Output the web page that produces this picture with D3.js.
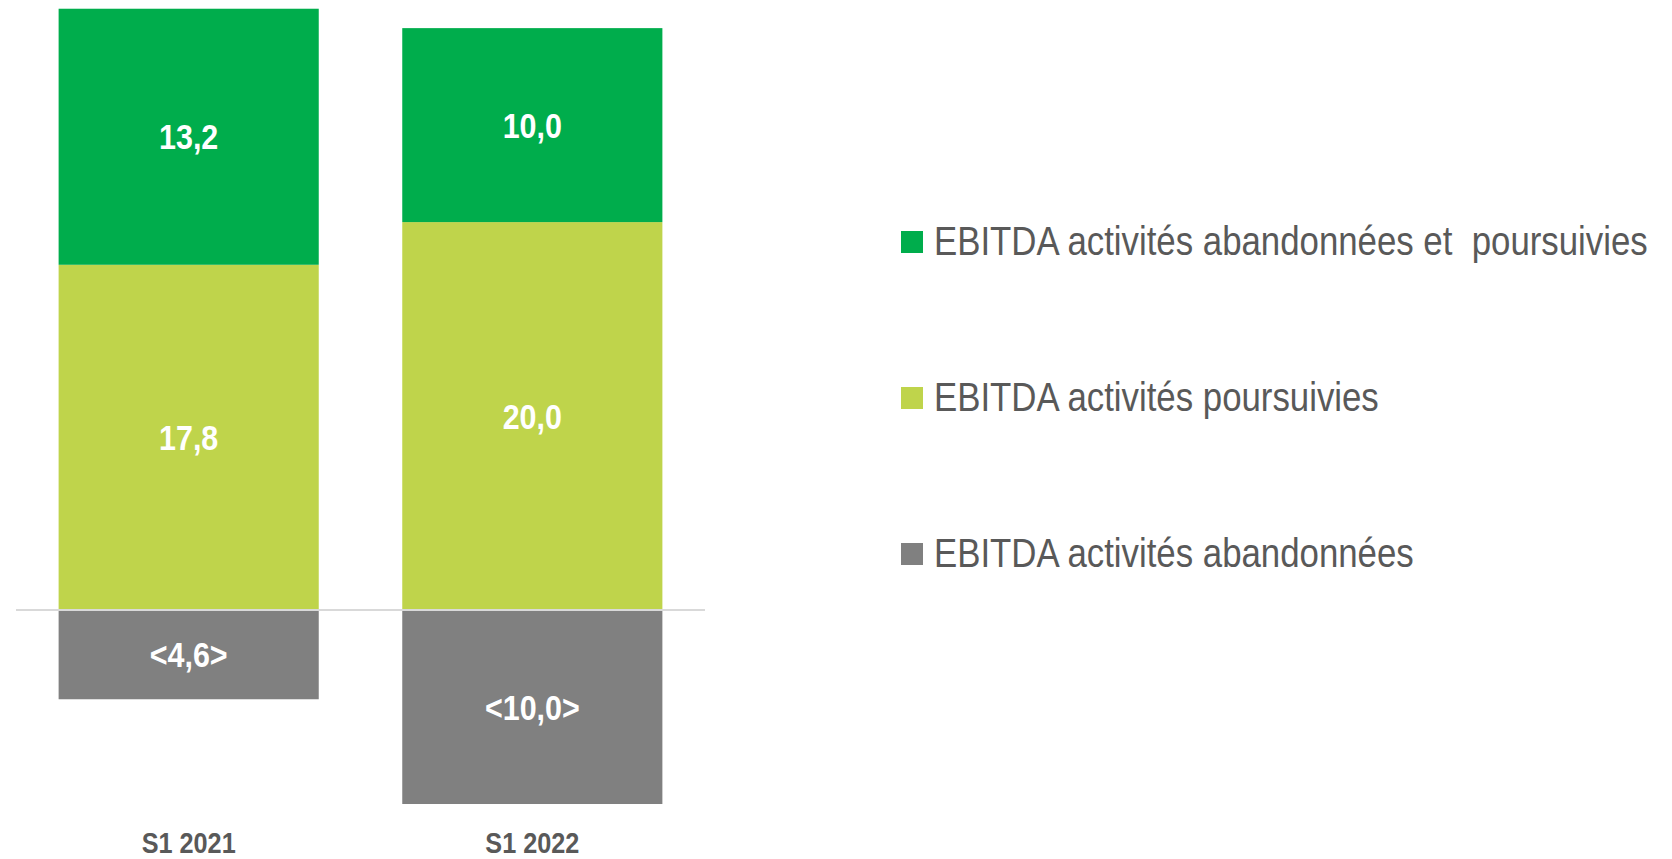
<!doctype html>
<html>
<head>
<meta charset="utf-8">
<style>
  body { margin: 0; background: #fff; }
  svg text { font-family: "Liberation Sans Narrow", "Arial Narrow", "Liberation Sans", Arial, sans-serif; }
</style>
<script src="https://d3js.org/d3.v7.min.js"></script>
</head>
<body>
<svg width="1672" height="859"></svg>
<script>
// data
var categories = ["S1 2021", "S1 2022"];
var poursuivies = [17.8, 20.0];
var abandPours = [13.2, 10.0];
var abandonnees = [-4.6, -10.0];
var seriesNames = [
  "EBITDA activités abandonnées et  poursuivies",
  "EBITDA activités poursuivies",
  "EBITDA activités abandonnées"
];
var seriesColors = ["#00ad4c", "#bfd44b", "#808080"];

// no narrow face installed: squeeze Liberation Sans horizontally
var narrow = 0.87;

var svg = d3.select("svg");

var rows = categories.map(function(c, i) {
  return { cat: c, pours: poursuivies[i], both: abandPours[i], aband: abandonnees[i] };
});
var keys = ["pours", "both", "aband"];
var colorOf = { both: seriesColors[0], pours: seriesColors[1], aband: seriesColors[2] };

var stacked = d3.stack().keys(keys).offset(d3.stackOffsetDiverging)(rows);

var x = d3.scaleBand().domain(categories).range([16, 705]).paddingInner(0.243).paddingOuter(0.124);
var y = d3.scaleLinear().domain([-12.5, 31.45]).range([852.5, 0]);

var fmt = function(v) {
  var s = d3.format(".1f")(Math.abs(v)).replace(".", ",");
  return v < 0 ? "<" + s + ">" : s;
};

var layer = svg.selectAll("g.layer")
  .data(stacked)
  .enter().append("g")
  .attr("class", "layer")
  .attr("fill", function(d) { return colorOf[d.key]; });

layer.selectAll("rect")
  .data(function(d) { return d; })
  .enter().append("rect")
  .attr("x", function(d) { return x(d.data.cat); })
  .attr("width", x.bandwidth())
  .attr("y", function(d) { return y(Math.max(d[0], d[1])); })
  .attr("height", function(d) { return Math.abs(y(d[0]) - y(d[1])); });

// zero line
svg.append("line")
  .attr("x1", 16).attr("x2", 705)
  .attr("y1", y(0)).attr("y2", y(0))
  .attr("stroke", "#d9d9d9")
  .attr("stroke-width", 2);

// value labels
layer.selectAll("text")
  .data(function(d) { return d.map(function(p) { return { p: p, key: d.key }; }); })
  .enter().append("text")
  .attr("transform", function(d) {
    var cx = x(d.p.data.cat) + x.bandwidth() / 2,
        cy = (y(d.p[0]) + y(d.p[1])) / 2;
    return "translate(" + cx + "," + cy + ") scale(" + narrow + ",1)";
  })
  .attr("dy", "0.36em")
  .attr("text-anchor", "middle")
  .attr("fill", "#fff")
  .attr("font-weight", "bold")
  .attr("font-size", "35px")
  .text(function(d) { return fmt(d.p.data[d.key]); });

// category labels
svg.append("g")
  .attr("transform", "translate(0,853)")
  .call(d3.axisBottom(x).tickSize(0).tickPadding(0))
  .call(function(g) { g.select(".domain").remove(); })
  .selectAll("text")
  .attr("y", 0)
  .attr("dy", 0)
  .attr("transform", "scale(" + narrow + ",1)")
  .attr("fill", "#595959")
  .attr("font-weight", "bold")
  .attr("font-size", "29px")
  .style("font-family", "'Liberation Sans Narrow', 'Arial Narrow', 'Liberation Sans', Arial, sans-serif");

// legend
var legend = svg.selectAll("g.legend")
  .data(seriesNames)
  .enter().append("g")
  .attr("class", "legend")
  .attr("transform", function(d, i) { return "translate(901," + (255 + i * 156) + ")"; });

legend.append("rect")
  .attr("x", 0).attr("y", -24)
  .attr("width", 22).attr("height", 22)
  .attr("fill", function(d, i) { return seriesColors[i]; });

legend.append("text")
  .attr("transform", "translate(33,0) scale(" + narrow + ",1)")
  .attr("fill", "#595959")
  .attr("font-size", "40px")
  .style("white-space", "pre")
  .text(function(d) { return d; });
</script>
</body>
</html>
